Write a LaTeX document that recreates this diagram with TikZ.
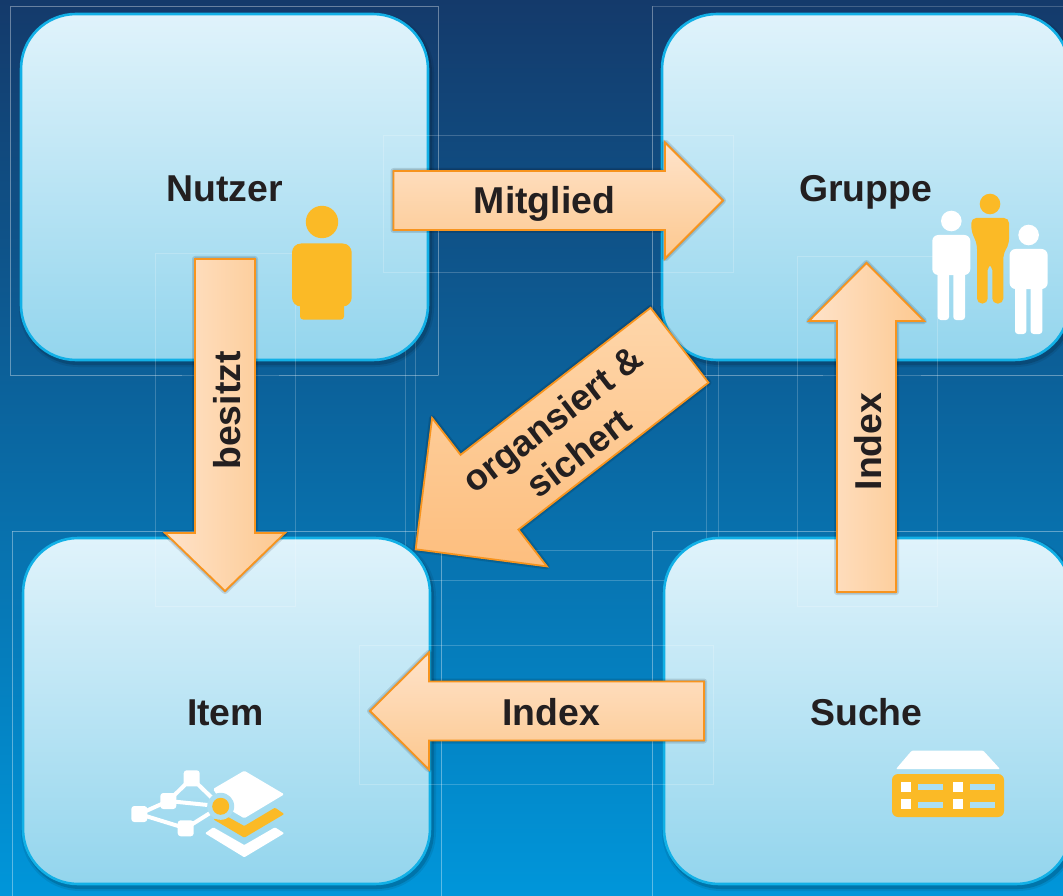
\documentclass[tikz,border=0pt]{standalone}
\usepackage{fontspec}
\setmainfont{Liberation Sans}
\usetikzlibrary{calc}
\definecolor{inkc}{HTML}{231F20}
\definecolor{bgtop}{HTML}{143A6B}
\definecolor{bgmid}{HTML}{005CA8}
\definecolor{bgbot}{HTML}{0096DA}
\definecolor{boxtop}{HTML}{E0F3FB}
\definecolor{boxbot}{HTML}{93D5ED}
\definecolor{boxline}{HTML}{12B0E6}
\definecolor{arrline}{HTML}{F7941E}
\definecolor{arrlight}{HTML}{FEE3CA}
\definecolor{arrdark}{HTML}{FDC88F}
\definecolor{arrdiagA}{HTML}{FED6AA}
\definecolor{arrdiagB}{HTML}{FDBE7E}
\definecolor{iconor}{HTML}{FBBA26}
\definecolor{halo}{HTML}{ACDFF2}
\tikzset{
  x=1pt,y=-1pt,
  lbl/.style={font=\fontsize{37.4}{42}\selectfont\bfseries,text=inkc,inner sep=0pt,align=center,text height=27pt,text depth=0pt},
  lblfree/.style={font=\fontsize{36.6}{43}\selectfont\bfseries,text=inkc,inner sep=0pt,align=center},
  card/.style={rectangle,rounded corners=55pt,draw=boxline,line width=2.6pt,
    top color=boxtop,bottom color=boxbot,minimum width=407pt,minimum height=346pt,
    inner sep=0pt,
    preaction={draw=black,draw opacity=.08,line width=8pt,transform canvas={shift={(2,3)}}},
    preaction={draw=black,draw opacity=.14,line width=4pt,transform canvas={shift={(2,3)}}}},
  frameline/.style={draw=white,draw opacity=.2,line width=.7pt},
  arrowh/.style={draw=arrline,line width=1.8pt,line join=miter,top color=arrlight,bottom color=arrdark},
  arrowv/.style={draw=arrline,line width=1.8pt,line join=miter,left color=arrlight,right color=arrdark},
  arrowd/.style={draw=arrline,line width=1.8pt,line join=miter,shading=axis,shading angle=50,
    top color=arrdiagA,bottom color=arrdiagB},
  iconw/.style={fill=white,draw=none},
  icono/.style={fill=iconor,draw=none},
}
% tail, tip, half body width, head length, half head width, style
\newcommand{\blockarrow}[6]{%
  \coordinate (h) at ($(#2)!#4pt!(#1)$);
  \coordinate (t1) at ($(#1)!#3pt!90:(#2)$);
  \coordinate (t2) at ($(#1)!#3pt!-90:(#2)$);
  \coordinate (h1) at ($(h)!#3pt!90:(#2)$);
  \coordinate (h2) at ($(h)!#3pt!-90:(#2)$);
  \coordinate (p1) at ($(h)!#5pt!90:(#2)$);
  \coordinate (p2) at ($(h)!#5pt!-90:(#2)$);
  \foreach \w in {6,3,0.5}{
    \draw[black,opacity=.12,line width=\w pt,line join=round,fill=black,shift={(2,4)}]
      (t1)--(h1)--(p1)--(#2)--(p2)--(h2)--(t2)--cycle;
  }
  \draw[#6] (t1)--(h1)--(p1)--(#2)--(p2)--(h2)--(t2)--cycle;
}
\begin{document}
\begin{tikzpicture}
\useasboundingbox (0,0) rectangle (1063,896);
\clip (0,0) rectangle (1063,896);
\shade[top color=bgtop,middle color=bgmid,bottom color=bgbot] (0,0) rectangle (1063,896);

% faint layout frames on the ground
\draw[frameline] (10.5,6) rectangle (438,375);
\draw[frameline] (652,6) rectangle (1075,375);
\draw[frameline] (12,531) rectangle (441,910);
\draw[frameline] (652,531) rectangle (1075,910);
\draw[frameline] (405,375) -- (405,303) -- (415,303) -- (415,550) -- (706,550) -- (706,303) -- (718,303) -- (718,580) -- (405,580) -- (405,375);

% cards
\node[card] (nutzer) at (224.5,187) {};
\node[card] (gruppe) at (865.5,187) {};
\node[card] (item) at (226.5,711) {};
\node[card] (suche) at (867.5,711) {};
\node[lbl] (nutzert) at (224.5,188) {Nutzer};
\node[lbl] (gruppet) at (865.5,188) {Gruppe};
\node[lbl] (itemt) at (225.5,712) {Item};
\node[lbl] (suchet) at (866.5,712) {Suche};

% faint frames over the cards
\draw[frameline] (10.5,6) -- (438,6) -- (438,375);
\draw[frameline] (652,6) -- (652,375);
\draw[frameline] (10.5,6) -- (10.5,375) -- (182,375) (279,375) -- (438,375);
\draw[frameline] (652,375) -- (823,375) (921,375) -- (1063,375);
\draw[frameline] (12,531) -- (441,531) -- (441,896);
\draw[frameline] (652,896) -- (652,531) -- (1063,531);
\draw[frameline] (12,531) -- (12,896);
\draw[frameline] (155,253) rectangle (295,606);
\draw[frameline] (797,256) rectangle (937,606);
\draw[frameline] (383,135) rectangle (733,272);
\draw[frameline] (359.5,645) rectangle (713,784);

% user icon
\fill[icono] (322,222) circle (16.2);
\fill[icono,rounded corners=3pt] (300,300) rectangle (344,319.5);
\fill[icono,rounded corners=9pt] (292,243.5) rectangle (351.7,306.5);

% group icon
\fill[iconw] (951.3,221) circle (10.3);
\fill[iconw,rounded corners=3pt] (937.7,270) rectangle (949,320);
\fill[iconw,rounded corners=3pt] (953.3,270) rectangle (965,320);
\fill[iconw,rounded corners=6pt] (932.3,235) rectangle (970.3,275);
\fill[icono] (990,204) circle (10.3);
\fill[icono,rounded corners=5pt] (971.3,218) -- (1009,218) -- (1009,244) -- (1003.3,254) -- (1003.3,303.5)
   -- (992.3,303.5) -- (992.3,265) -- (987.7,265) -- (987.7,303.5) -- (977,303.5) -- (977,244) -- (971.3,231) -- cycle;
\fill[iconw] (1028.6,235) circle (10.3);
\fill[iconw,rounded corners=3pt] (1015,284) rectangle (1026.3,334);
\fill[iconw,rounded corners=3pt] (1030.6,284) rectangle (1042.3,334);
\fill[iconw,rounded corners=6pt] (1009.6,249) rectangle (1047.6,289);

% item icon
\fill[iconw,rounded corners=1.5pt] (244.3,770.7) -- (284.3,794.3) -- (244.3,818.3) -- (225,807) -- (213,789) -- cycle;
\fill[icono,rounded corners=1pt] (213.3,819.3) -- (228,817) -- (244.3,826) -- (275,807.7) -- (284.3,814) -- (244.3,837.7) -- cycle;
\fill[iconw,rounded corners=1pt] (205,833.3) -- (213.3,827.3) -- (244.3,845) -- (275,827.3) -- (284.3,833.3) -- (244.3,857.3) -- cycle;
\coordinate (ia) at (191.7,778.3);
\coordinate (ib) at (168.3,801);
\coordinate (ic) at (139.3,814);
\coordinate (id) at (185.7,828.3);
\coordinate (ie) at (220.7,806.3);
\draw[white,line width=4pt] (ia)--(ib)--(ic)--(id)--(ie) (ia)--(ie) (ib)--(ie);
\fill[halo] (ie) circle (13.5);
\fill[icono] (ie) circle (8.5);
\foreach \p in {ia,ib,ic,id}{
  \fill[iconw,rounded corners=3pt] ($(\p)+(-8,-8)$) rectangle ($(\p)+(8,8)$);
}

% server icon
\fill[iconw,rounded corners=1pt] (896,769) -- (911.7,750.7) -- (983.3,750.7) -- (1000,769) -- cycle;
\fill[icono,rounded corners=6pt] (892,774) rectangle (1004,817);
\foreach \ya/\yb in {784/789.5,802/807.5}{
  \fill[halo] (917.7,\ya) rectangle (942.7,\yb);
  \fill[halo] (970,\ya) rectangle (995,\yb);
}
\foreach \ya in {781.7,799.3}{
  \fill[iconw] (901,\ya) rectangle (911,\ya+10);
  \fill[iconw] (953.3,\ya) rectangle (963.3,\ya+10);
}

% block arrows
\coordinate (a1s) at (393.5,200.5); \coordinate (a1e) at (723,200.5);
\coordinate (a2s) at (225,259);     \coordinate (a2e) at (225,591);
\coordinate (a3s) at (679.5,345.2); \coordinate (a3e) at (415.7,549.3);
\coordinate (a4s) at (866.5,592);   \coordinate (a4e) at (866.5,263);
\coordinate (a5s) at (704,711);     \coordinate (a5e) at (370,711);
\blockarrow{a2s}{a2e}{30}{58}{60}{arrowv}
\blockarrow{a1s}{a1e}{29.5}{58}{58}{arrowh}
\blockarrow{a3s}{a3e}{47.3}{93.3}{93.8}{arrowd}
\blockarrow{a4s}{a4e}{29.5}{58}{57.5}{arrowv}
\blockarrow{a5s}{a5e}{29.5}{59}{58.5}{arrowh}

\node[lbl] (mitglied) at (544.5,200) {Mitglied};
\node[lbl,rotate=90] (besitzt) at (227,410.5) {besitzt};
\node[lbl,rotate=90] (indexv) at (868,441.5) {Index};
\node[lbl] (indexh) at (551,711.5) {Index};
\node[lblfree,rotate=37.5] (organ) at (565.5,436) {organsiert \&\\sichert};
\end{tikzpicture}
\end{document}
